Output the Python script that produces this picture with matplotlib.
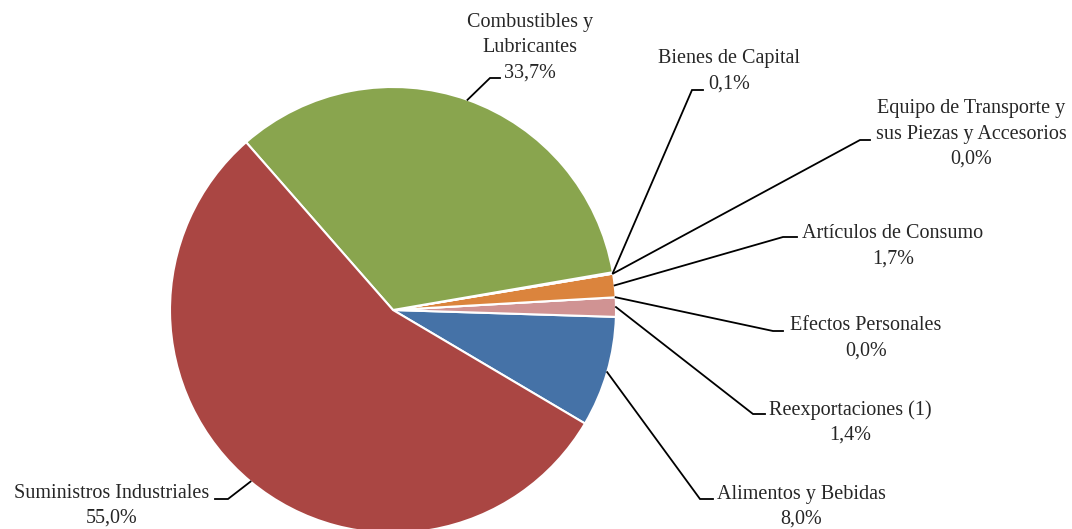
import numpy as np
import matplotlib
matplotlib.use("Agg")
import matplotlib.pyplot as plt

# ---- data ----
categories = ["Alimentos y Bebidas", "Reexportaciones (1)", "Efectos Personales",
              "Artículos de Consumo", "Equipo de Transporte y\nsus Piezas y Accesorios",
              "Bienes de Capital", "Combustibles y\nLubricantes", "Suministros Industriales"]
values = [8.0, 1.4, 0.0, 1.7, 0.0, 0.1, 33.7, 55.0]
value_labels = ["8,0%", "1,4%", "0,0%", "1,7%", "0,0%", "0,1%", "33,7%", "55,0%"]
colors = ["#4572A7", "#D09393", "#D09393", "#DB843D", "#DB843D", "#DB843D", "#89A54E", "#AA4643"]

# ---- layout (pixel coordinates, y measured from top) ----
W, H = 1072, 529
CX, CY, R = 393, 310, 223
START = -30.6
# label text centre x, first line y
text_pos = [(801, 494), (850, 410), (866, 326), (893, 234), (971, 109),
            (729, 59), (530, 23), (112, 493)]
# elbow point, end of horizontal stub
elbows = [((700, 499), (713, 499)), ((753, 414), (765, 414)), ((773, 331), (783, 331)),
          ((783, 237), (797, 237)), ((860, 140), (870, 140)), ((692, 90), (703, 90)),
          ((490, 78), (500, 78)), ((228, 499), (215, 499))]
LINE_H = 25

fig = plt.figure(figsize=(W / 100, H / 100), dpi=100)
ax = fig.add_axes([0, 0, 1, 1])
ax.set_xlim(0, W)
ax.set_ylim(0, H)
ax.set_aspect("equal")
ax.axis("off")

def fy(y):
    return H - y

wedges, _ = ax.pie(values, colors=colors, startangle=START, counterclock=True,
                   center=(CX, fy(CY)), radius=R, normalize=True,
                   wedgeprops=dict(edgecolor="white", linewidth=1.5))
ax.set_xlim(0, W)
ax.set_ylim(0, H)

font = dict(family="Liberation Serif", size=14.5, color="#262626")
total = sum(values)
acc = START
for i, v in enumerate(values):
    ang = acc + v / total * 360 / 2
    acc += v / total * 360
    sx = CX + R * np.cos(np.radians(ang))
    sy = fy(CY) + R * np.sin(np.radians(ang))
    (ex, ey), (hx, hy) = elbows[i]
    ax.plot([sx, ex, hx], [sy, fy(ey), fy(hy)], color="black", lw=1.3,
            solid_joinstyle="miter", clip_on=False)
    lines = categories[i].split("\n") + [value_labels[i]]
    tx, ty = text_pos[i]
    for k, line in enumerate(lines):
        ax.text(tx, fy(ty + k * LINE_H), line, ha="center", va="center", **font)

fig.savefig("out.png", dpi=100)
